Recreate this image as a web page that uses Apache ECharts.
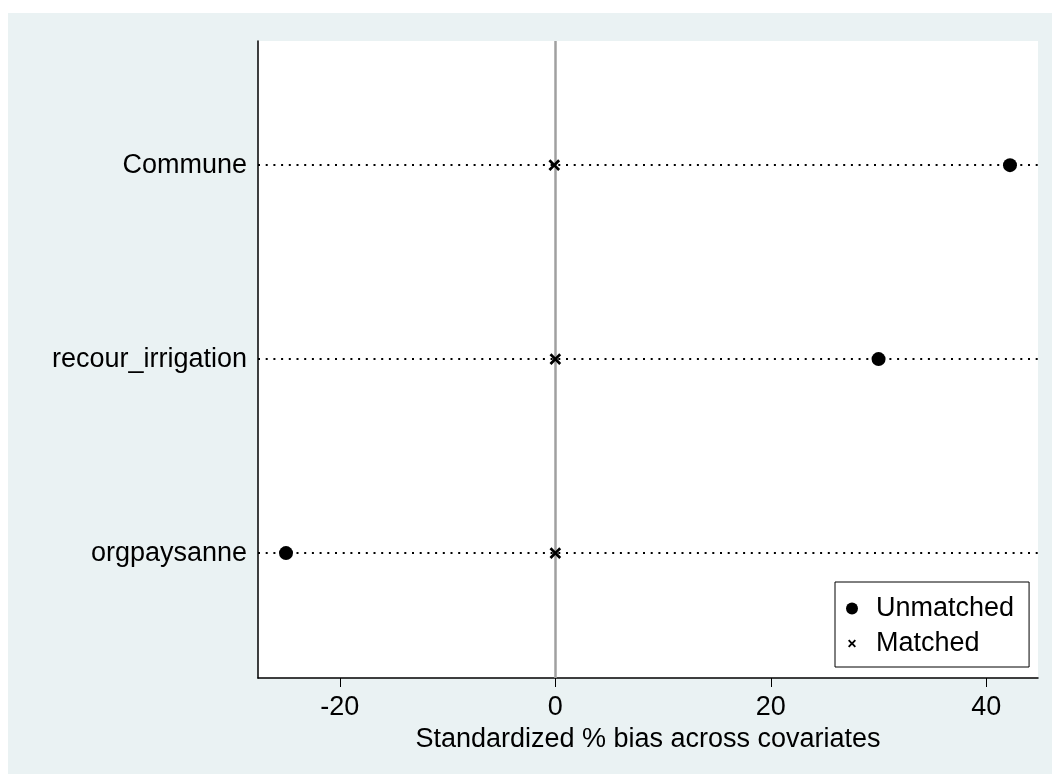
<!DOCTYPE html>
<html><head><meta charset="utf-8">
<script src="https://cdn.jsdelivr.net/npm/echarts@6/dist/echarts.min.js"></script>
<style>html,body{margin:0;padding:0;background:#fff}#c{width:1052px;height:774px}</style>
</head><body><div id="c"></div>
<script>
// Covariates, bottom to top (positions 1, 2, 3 on the y axis)
const categories = ['orgpaysanne', 'recour_irrigation', 'Commune'];
const unmatched = [-25.0, 30.0, 42.2];
const matched = [0, 0, -0.1];
const xTicks = [-20, 0, 20, 40];
const xRange = [-27.6, 44.8];
const yRange = [0.356, 3.64];
const seriesNames = ['Unmatched', 'Matched'];
const xTitle = 'Standardized % bias across covariates';

const FONT = '"Liberation Sans", Arial, Helvetica, sans-serif';
const FS = 27;
const crossPath = 'path://M0,0M18,18M3,5L5,3L9,7L13,3L15,5L11,9L15,13L13,15L9,11L5,15L3,13L7,9Z';
const catPos = categories.map((c, i) => i + 1);

const chart = echarts.init(document.getElementById('c'));
chart.setOption({
  animation: false,
  backgroundColor: '#ffffff',
  textStyle: { fontFamily: FONT },
  graphic: [{
    type: 'rect', z: -10, silent: true,
    shape: { x: 8, y: 13, width: 1044, height: 761 },
    style: { fill: '#eaf2f3' }
  }],
  grid: {
    left: 258, top: 41, right: 14, bottom: 96,
    show: true, backgroundColor: '#ffffff', borderWidth: 0
  },
  legend: {
    orient: 'vertical',
    left: 835, top: 582,
    data: [{ name: seriesNames[0], icon: 'circle' }, { name: seriesNames[1], icon: crossPath }],
    itemWidth: 12, itemHeight: 12, itemGap: 8,
    padding: [13, 15, 10, 11],
    borderColor: '#000', borderWidth: 1, backgroundColor: '#ffffff',
    textStyle: { fontSize: FS, color: '#000', fontFamily: FONT, padding: [0, 0, 0, 13] },
    selectedMode: false
  },
  xAxis: {
    type: 'value', min: xRange[0], max: xRange[1],
    axisLine: { show: true, onZero: false, lineStyle: { color: '#000', width: 1.5 } },
    axisTick: { show: true, customValues: xTicks, length: 9, lineStyle: { color: '#000', width: 1 } },
    axisLabel: { customValues: xTicks, fontSize: FS, color: '#000', margin: 16, fontFamily: FONT },
    splitLine: { show: false },
    name: xTitle, nameLocation: 'middle', nameGap: 38,
    nameTextStyle: { fontSize: FS, color: '#000', fontFamily: FONT }
  },
  yAxis: {
    type: 'value', min: yRange[0], max: yRange[1],
    axisLine: { show: true, onZero: false, lineStyle: { color: '#000', width: 1.5 } },
    axisTick: { show: false },
    axisLabel: {
      customValues: catPos, fontSize: FS, color: '#000', margin: 11, fontFamily: FONT,
      formatter: v => categories[Math.round(v) - 1] || ''
    },
    splitLine: { show: false }
  },
  series: [
    {
      name: 'guides', type: 'line', data: [], z: 1, silent: true,
      markLine: {
        silent: true, symbol: 'none', label: { show: false },
        lineStyle: { color: '#000', width: 2, type: [2, 5.7] },
        data: catPos.map(p => ({ yAxis: p }))
      }
    },
    {
      name: 'zero', type: 'line', data: [], z: 2, silent: true,
      markLine: {
        silent: true, symbol: 'none', label: { show: false },
        lineStyle: { color: '#a0a0a0', width: 2.5, type: 'solid' },
        data: [{ xAxis: 0 }]
      }
    },
    {
      name: seriesNames[0], type: 'scatter', z: 5,
      symbol: 'circle', symbolSize: 14,
      itemStyle: { color: '#000', opacity: 1 },
      data: unmatched.map((v, i) => [v, catPos[i]])
    },
    {
      name: seriesNames[1], type: 'scatter', z: 5,
      symbol: crossPath, symbolSize: 17.5,
      itemStyle: { color: '#000', opacity: 1 },
      data: matched.map((v, i) => [v, catPos[i]])
    }
  ]
});
</script>
</body></html>
